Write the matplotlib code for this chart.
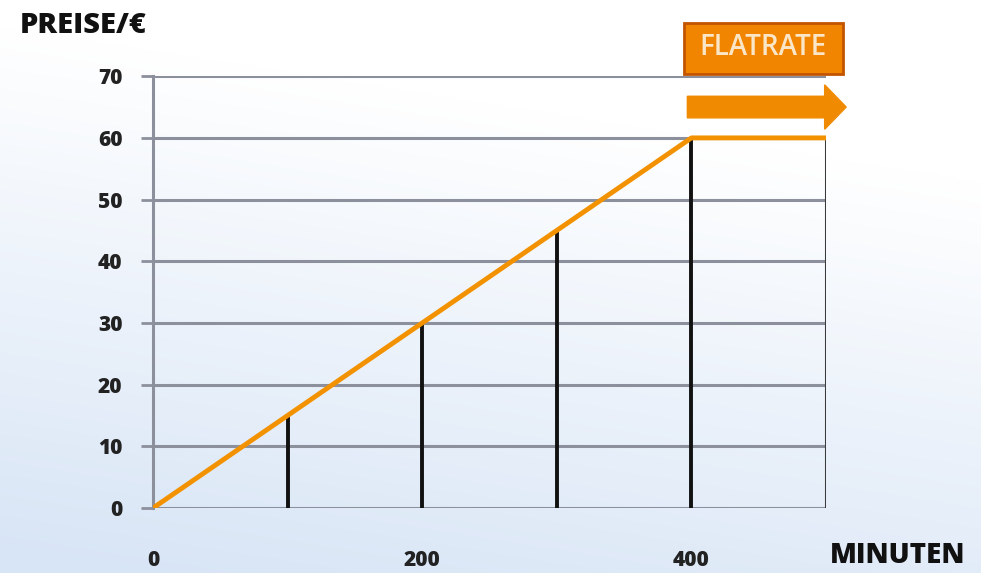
import numpy as np
import matplotlib.pyplot as plt
from matplotlib.patches import FancyArrow, Rectangle

# Daten
preis_x = [0, 400, 500]          # Minuten
preis_y = [0, 60, 60]            # Preis in Euro
stufen_x = [100, 200, 300, 400]  # senkrechte Linien
stufen_y = [15, 30, 45, 60]
y_ticks = [0, 10, 20, 30, 40, 50, 60, 70]
x_ticks = [0, 200, 400]

ORANGE = '#f39200'
GRAU = '#8c909c'

fig = plt.figure(figsize=(9.81, 5.73), dpi=100)

# Hintergrund mit Verlauf (weiss oben -> hellblau unten links)
bg = fig.add_axes([0, 0, 1, 1], zorder=-10)
yy, xx = np.mgrid[0:1:200j, 0:1:300j]
t = np.clip(1.1 * (1 - yy) + 0.3 * (1 - xx) - 0.35, 0, 1)
weiss = np.array([1.0, 1.0, 1.0])
blau = np.array([0.85, 0.90, 0.965])
img = weiss[None, None, :] * (1 - t[..., None]) + blau[None, None, :] * t[..., None]
bg.imshow(img, origin='lower', aspect='auto', extent=[0, 1, 0, 1])
bg.axis('off')

ax = fig.add_axes([0.156, 0.1134, 0.686, 0.7536])
ax.patch.set_alpha(0)
ax.set_xlim(0, 500)
ax.set_ylim(0, 70)

# Gitterlinien
ax.set_yticks(y_ticks)
ax.yaxis.grid(True, color=GRAU, linewidth=2.2)
ax.set_axisbelow(True)
ax.tick_params(axis='y', length=9, width=2, color=GRAU, pad=13, labelsize=15)
ax.set_xticks(x_ticks)
ax.tick_params(axis='x', length=0, pad=30, labelsize=15)
for lab in ax.get_xticklabels() + ax.get_yticklabels():
    lab.set_fontweight('heavy')
    lab.set_family('Open Sans')
    lab.set_color('#222222')

for s in ['top', 'right', 'bottom']:
    ax.spines[s].set_visible(False)
ax.spines['left'].set_color(GRAU)
ax.spines['left'].set_linewidth(2.2)

# senkrechte Linien
ax.vlines(stufen_x, 0, stufen_y, color='#111111', linewidth=2.8, zorder=3)
ax.vlines(500, 0, 60, color='#3a3a3a', linewidth=2.2, zorder=3)

# Preislinie
ax.plot(preis_x, preis_y, color=ORANGE, linewidth=3.5, zorder=4, solid_capstyle='round')

# Flatrate-Kasten und Pfeil
ax.add_patch(Rectangle((394.5, 70.4), 118, 8.3, facecolor='#f28500', edgecolor='#c25400',
                       linewidth=2, clip_on=False, zorder=5))
ax.text(453.5, 74.6, 'FLATRATE', ha='center', va='center', color='#fbe7c8',
        fontsize=20, fontweight='semibold', family='Open Sans', zorder=6, clip_on=False)
ax.add_patch(FancyArrow(397, 65, 102, 0, width=3.5, head_width=7.2, head_length=16,
                        length_includes_head=False, color='#f08a00', clip_on=False, zorder=5))

# Achsentitel
fig.text(0.02, 0.955, 'PREISE/€', fontsize=21, fontweight='heavy', family='Open Sans',
         color='#111111', va='center')
fig.text(0.846, 0.03, 'MINUTEN', fontsize=20, fontweight='heavy', family='Open Sans',
         color='#111111', va='center')

fig.savefig('out.png', dpi=100)
